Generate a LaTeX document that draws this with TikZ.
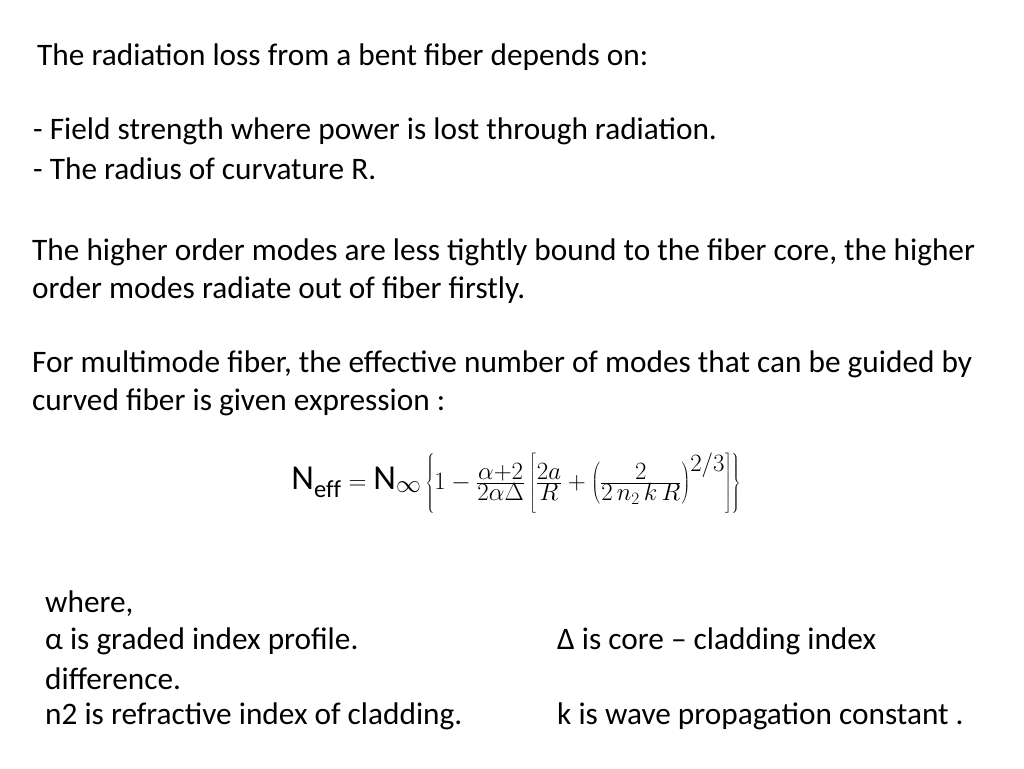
\documentclass[tikz,border=0pt]{standalone}
\usepackage{fontspec}
\setmainfont{Carlito}
\tikzset{
  txt/.style={anchor=west, inner sep=0pt, font=\fontsize{31.3}{36}\selectfont}
}
\begin{document}
\begin{tikzpicture}[x=1pt,y=-1pt]
\useasboundingbox[fill=white] (0,0) rectangle (1024,768);
% heading lines
\node[txt] (l1) at (37,57) {The radiation loss from a bent fiber depends on:};
\node[txt] (l2) at (33,131) {- Field strength where power is lost through radiation.};
\node[txt] (l3) at (33,169) {- The radius of curvature R.};
\node[txt] (l4) at (32,252) {The higher order modes are less tightly bound to the fiber core, the higher};
\node[txt] (l5) at (32,290) {order modes radiate out of fiber firstly.};
\node[txt] (l6) at (32,364) {For multimode fiber, the effective number of modes that can be guided by};
\node[txt] (l7) at (32,402) {curved fiber is given expression :};
% formula
\node[inner sep=0pt, font=\fontsize{35}{40}\selectfont] (eq) at (516,483)
  {$\mathrm{N_{eff}} = \mathrm{N}_{\infty}\left\{1-\frac{\alpha+2}{2\alpha\Delta}\left[\frac{2a}{R}+\left(\frac{2}{2\,n_2\,k\,R}\right)^{2/3}\right]\right\}$};
% definitions
\node[txt] (w1) at (45,604) {where,};
\node[txt] (w2) at (45,641) {α is graded index profile.};
\node[txt] (w3) at (557,641) {Δ is core – cladding index};
\node[txt] (w4) at (45,679) {difference.};
\node[txt] (w5) at (45,716) {n2 is refractive index of cladding.};
\node[txt] (w6) at (557,716) {k is wave propagation constant .};
\end{tikzpicture}
\end{document}
